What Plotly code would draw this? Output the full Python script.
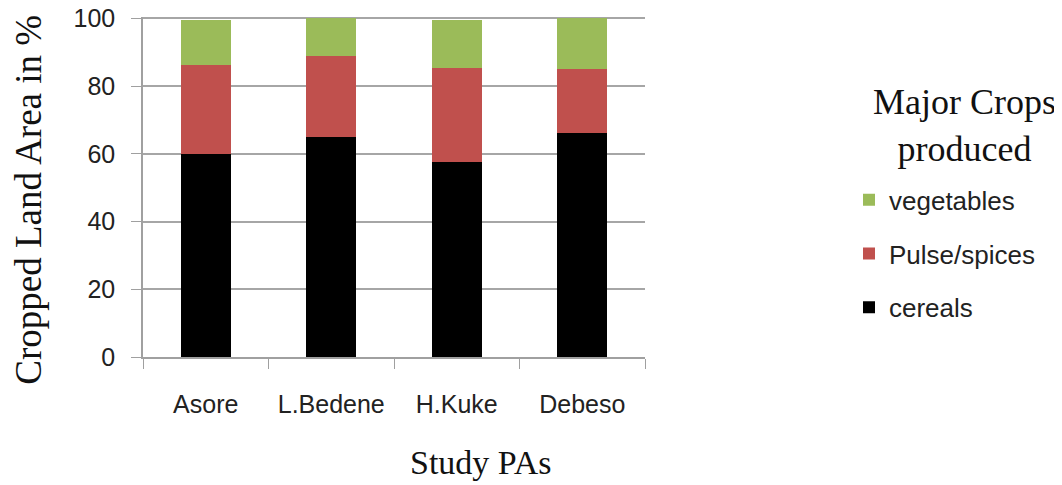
import plotly.graph_objects as go

categories = ["Asore", "L.Bedene", "H.Kuke", "Debeso"]
cereals = [59.8, 65.0, 57.6, 66.2]
pulse_spices = [26.4, 23.8, 27.8, 18.8]
vegetables = [13.3, 11.2, 14.1, 15.0]
y_ticks = [0, 20, 40, 60, 80, 100]

SANS = "Liberation Sans, Arial, sans-serif"
SERIF = "Liberation Serif, Times New Roman, serif"

# page body has an 8px margin: work in figure coords = reference px - 8
OFF = 8
FW, FH = 1062 - OFF, 485 - OFF

fig = go.Figure()
series = [
    ("cereals", cereals, "#000000", 3),
    ("Pulse/spices", pulse_spices, "#C0504D", 2),
    ("vegetables", vegetables, "#9BBB59", 1),
]
for name, vals, color, rank in series:
    fig.add_trace(go.Bar(
        x=categories, y=vals, name=name, legendgroup=name, legendrank=rank,
        marker=dict(color=color, line=dict(width=0)),
        width=0.4,
    ))

Y_TOP = 100.4
L, R, B = 143 - OFF, 645 - OFF, 357.3 - OFF
T = B - (357.3 - 18.5) * Y_TOP / 100
PW, PH = R - L, B - T

def px(xr):
    return (xr - OFF - L) / PW

def py(yr):
    return (B - (yr - OFF)) / PH

fig.update_layout(
    barmode="stack",
    width=FW, height=FH,
    margin=dict(l=L, r=FW - R, t=T, b=FH - B, autoexpand=False),
    plot_bgcolor="white", paper_bgcolor="white",
    showlegend=True,
    legend=dict(
        xref="paper", yref="paper",
        x=px(849), y=py(254), xanchor="left", yanchor="middle",
        traceorder="grouped", tracegroupgap=17,
        font=dict(family=SANS, size=26, color="#222"),
        itemwidth=30,
    ),
    xaxis=dict(
        showline=True, linecolor="#a0a0a0", linewidth=1.5,
        ticks="outside", tickson="boundaries", ticklen=10, tickcolor="#a0a0a0",
        tickfont=dict(family=SANS, size=25, color="#222"),
        ticklabelstandoff=24, ticklabeloverflow="allow",
        showgrid=False, automargin=False,
    ),
    yaxis=dict(
        range=[0, Y_TOP], tickvals=y_ticks,
        showline=True, linecolor="#a0a0a0", linewidth=1.5,
        ticks="outside", ticklen=10, tickcolor="#a0a0a0",
        showgrid=True, gridcolor="#a6a6a6", gridwidth=1.5,
        tickfont=dict(family=SANS, size=25, color="#222"),
        ticklabelstandoff=11, ticklabeloverflow="allow",
        zeroline=False, automargin=False,
    ),
    font=dict(family=SANS),
    annotations=[
        dict(text="Study PAs", xref="paper", yref="paper",
             x=px(480), y=py(463), xanchor="center", yanchor="middle",
             showarrow=False,
             font=dict(family=SERIF, size=34, color="#111")),
        dict(text="Cropped Land Area in %", xref="paper", yref="paper",
             x=px(29), y=py(200), xanchor="center", yanchor="middle",
             textangle=-90, showarrow=False,
             font=dict(family=SERIF, size=37, color="#111")),
        dict(text="Major Crops<br>produced", xref="paper", yref="paper",
             x=px(964), y=py(126), xanchor="center", yanchor="middle",
             align="center", showarrow=False,
             font=dict(family=SERIF, size=36, color="#111")),
    ],
)

fig.write_html("out.html")
